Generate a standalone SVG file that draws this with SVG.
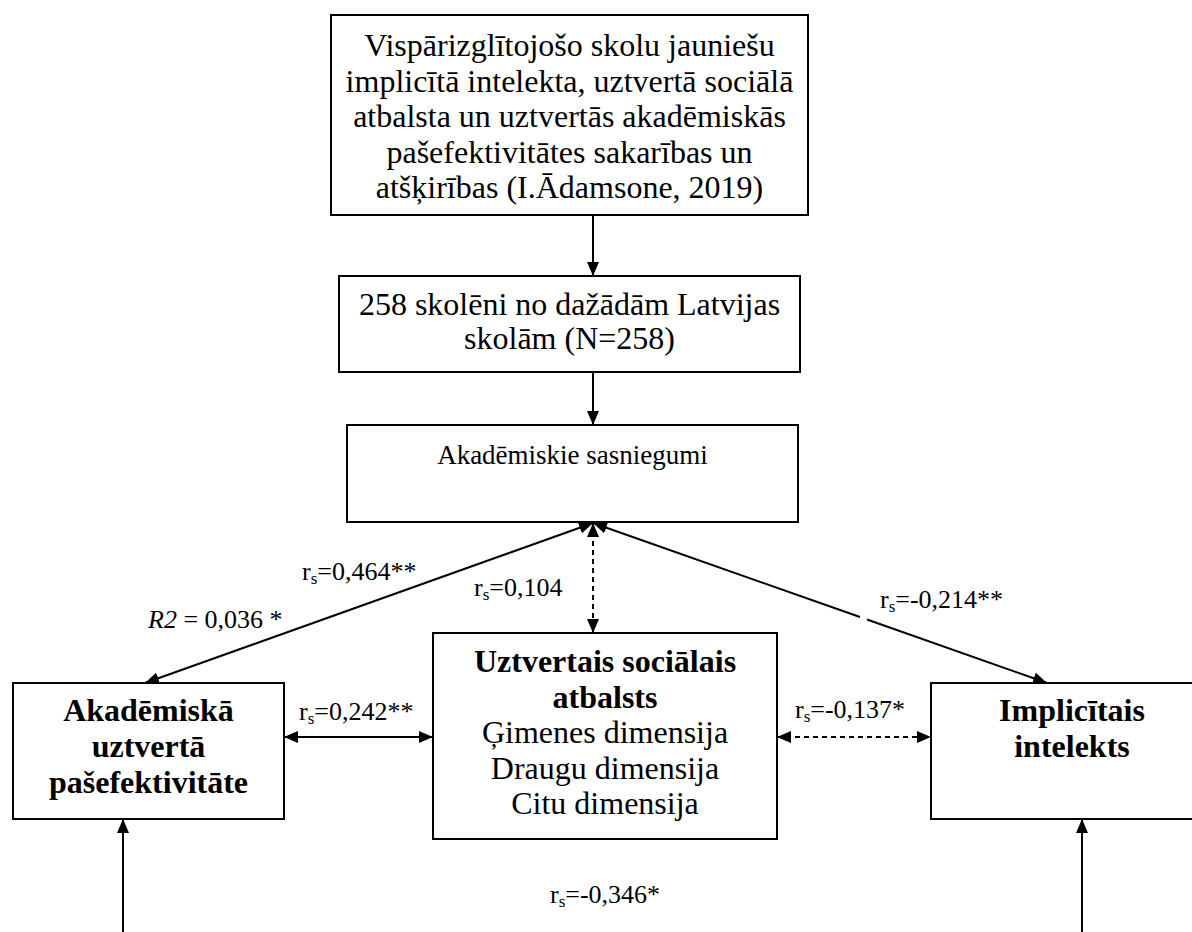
<svg xmlns="http://www.w3.org/2000/svg" width="1192" height="932" viewBox="0 0 1192 932">
  <style>
    .box { fill: #fff; stroke: #000; stroke-width: 2; }
    .t { font-family: "Liberation Serif", "Times New Roman", serif; fill: #000; text-anchor: middle; }
    .big { font-size: 32px; }
    .mid { font-size: 27px; }
    .b { font-weight: bold; }
    .lbl { font-family: "Liberation Serif", "Times New Roman", serif; font-size: 26px; fill: #000; }
    .sub { font-size: 17px; }
    .edge { fill: none; stroke: #000; stroke-width: 2; }
    .dash { stroke-dasharray: 5 4; }
  </style>
  <defs>
    <marker id="head" viewBox="0 0 14 12" refX="14" refY="6" markerWidth="14" markerHeight="12" markerUnits="userSpaceOnUse" orient="auto-start-reverse">
      <path d="M0,0 L14,6 L0,12 Z" fill="#000"/>
    </marker>
  </defs>

  <rect width="1192" height="932" fill="#fff"/>

  <!-- connectors -->
  <g id="connectors">
    <line class="edge" x1="593" y1="215" x2="593" y2="276" marker-end="url(#head)"/>
    <line class="edge" x1="593" y1="372" x2="593" y2="425" marker-end="url(#head)"/>
    <path class="edge" d="M593,523 L145,683" marker-start="url(#head)" marker-end="url(#head)"/>
    <path class="edge dash" d="M593,523 L593,633" marker-start="url(#head)" marker-end="url(#head)"/>
    <path class="edge" d="M593,523 L860,617 M867,619.5 L1047,683" marker-start="url(#head)" marker-end="url(#head)"/>
    <line class="edge" x1="284" y1="737" x2="433" y2="737" marker-start="url(#head)" marker-end="url(#head)"/>
    <line class="edge dash" x1="777" y1="737" x2="931" y2="737" marker-start="url(#head)" marker-end="url(#head)"/>
    <line class="edge" x1="123" y1="932" x2="123" y2="819" marker-end="url(#head)"/>
    <line class="edge" x1="1082" y1="932" x2="1082" y2="819" marker-end="url(#head)"/>
  </g>

  <!-- connector labels -->
  <g id="labels">
    <text class="lbl" x="302" y="580">r<tspan class="sub" dy="4">s</tspan><tspan dy="-4">=0,464**</tspan></text>
    <text class="lbl" x="148" y="628"><tspan font-style="italic">R2</tspan> = 0,036 *</text>
    <text class="lbl" x="474" y="596">r<tspan class="sub" dy="4">s</tspan><tspan dy="-4">=0,104</tspan></text>
    <text class="lbl" x="880" y="608">r<tspan class="sub" dy="4">s</tspan><tspan dy="-4">=-0,214**</tspan></text>
    <text class="lbl" x="299" y="720">r<tspan class="sub" dy="4">s</tspan><tspan dy="-4">=0,242**</tspan></text>
    <text class="lbl" x="795" y="718">r<tspan class="sub" dy="4">s</tspan><tspan dy="-4">=-0,137*</tspan></text>
    <text class="lbl" x="550" y="903">r<tspan class="sub" dy="4">s</tspan><tspan dy="-4">=-0,346*</tspan></text>
  </g>

  <!-- study -->
  <g id="study">
    <rect class="box" x="331" y="15" width="477" height="200"/>
    <text class="t big" x="569.5" y="56">Vispārizglītojošo skolu jauniešu</text>
    <text class="t big" x="569.5" y="91.5">implicītā intelekta, uztvertā sociālā</text>
    <text class="t big" x="569.5" y="127">atbalsta un uztvertās akadēmiskās</text>
    <text class="t big" x="569.5" y="162.5">pašefektivitātes sakarības un</text>
    <text class="t big" x="569.5" y="198">atšķirības (I.Ādamsone, 2019)</text>
  </g>

  <!-- sample -->
  <g id="sample">
    <rect class="box" x="339" y="276" width="461" height="96"/>
    <text class="t big" x="569.5" y="315">258 skolēni no dažādām Latvijas</text>
    <text class="t big" x="569.5" y="349">skolām (N=258)</text>
  </g>

  <!-- academic achievement -->
  <g id="achievement">
    <rect class="box" x="347" y="425" width="451" height="97"/>
    <text class="t mid" x="572.5" y="464">Akadēmiskie sasniegumi</text>
  </g>

  <!-- academic self-efficacy -->
  <g id="self-efficacy">
    <rect class="box" x="13" y="683" width="271" height="136"/>
    <text class="t big b" x="148.5" y="721">Akadēmiskā</text>
    <text class="t big b" x="148.5" y="757">uztvertā</text>
    <text class="t big b" x="148.5" y="793">pašefektivitāte</text>
  </g>

  <!-- perceived social support -->
  <g id="social-support">
    <rect class="box" x="433" y="633" width="344" height="206"/>
    <text class="t big b" x="605" y="672">Uztvertais sociālais</text>
    <text class="t big b" x="605" y="707.5">atbalsts</text>
    <text class="t big" x="605" y="743">Ģimenes dimensija</text>
    <text class="t big" x="605" y="778.5">Draugu dimensija</text>
    <text class="t big" x="605" y="814">Citu dimensija</text>
  </g>

  <!-- implicit intelligence -->
  <g id="implicit-intelligence">
    <rect class="box" x="931" y="683" width="290" height="136"/>
    <text class="t big b" x="1072" y="721">Implicītais</text>
    <text class="t big b" x="1072" y="757">intelekts</text>
  </g>
</svg>
